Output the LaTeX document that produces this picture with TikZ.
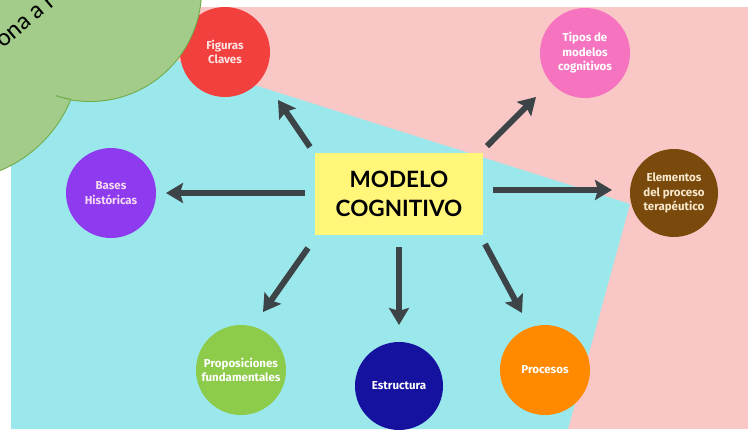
\documentclass[tikz,border=0pt]{standalone}
\usepackage{fontspec}
\setmainfont{Fira Sans}
\newfontfamily\titlefont{Lato}
\newfontfamily\cloudfont{Carlito}
\usetikzlibrary{arrows.meta}
\definecolor{bgpink}{HTML}{F8C7C6}
\definecolor{bgcyan}{HTML}{9BE8EC}
\definecolor{cred}{HTML}{F2403F}
\definecolor{cpink}{HTML}{F674BF}
\definecolor{cpurple}{HTML}{8E3BF0}
\definecolor{cbrown}{HTML}{7A4A0C}
\definecolor{cgreen}{HTML}{8DCB4A}
\definecolor{cblue}{HTML}{1512A0}
\definecolor{corange}{HTML}{FF8A00}
\definecolor{cyellow}{HTML}{FFF67A}
\definecolor{arrowgray}{HTML}{3D4447}
\definecolor{cloudfill}{HTML}{A3CC8A}
\definecolor{cloudline}{HTML}{6FAA45}
\definecolor{txtred}{HTML}{FCE4E2}
\definecolor{txtpurple}{HTML}{F4DAF2}
\definecolor{txtbrown}{HTML}{F8E8CC}
\tikzset{
  bubble/.style={circle, minimum size=90pt, inner sep=0pt, align=center,
    font=\bfseries\fontsize{11.5}{14.5}\selectfont, text=white},
  titlebox/.style={rectangle, fill=cyellow, minimum width=168pt, minimum height=82pt,
    inner sep=0pt, align=center, text=black,
    font=\titlefont\bfseries\fontsize{22.5}{29}\selectfont},
  arr/.style={draw=arrowgray, line width=6pt,
    -{Stealth[length=17pt, width=20pt, inset=3pt, fill=arrowgray]}},
  cloudtext/.style={inner sep=0pt, text=black, font=\cloudfont\fontsize{25}{30}\selectfont}
}
\begin{document}
\begin{tikzpicture}[x=1pt,y=-1pt]
\useasboundingbox (0,0) rectangle (748,429);
\clip (0,0) rectangle (748,429);
\fill[white] (0,0) rectangle (748,429);
% background papers
\fill[bgpink] (11,7) rectangle (748,429);
\fill[bgcyan] (11,8) -- (630,204) -- (568,429) -- (11,429) -- cycle;
% bubbles
\node[bubble, fill=cred, text=txtred] (fig) at (225,52) {Figuras\\Claves};
\node[bubble, fill=cpink] (tip) at (585,53) {Tipos de\\modelos\\cognitivos};
\node[bubble, fill=cpurple, text=txtpurple] (bas) at (111,193) {Bases\\Históricas};
\node[bubble, fill=cbrown, text=txtbrown, minimum size=88pt] (ele) at (674,193) {Elementos\\del proceso\\terapéutico};
\node[bubble, fill=cgreen] (pro) at (241,370) {Proposiciones\\fundamentales};
\node[bubble, fill=cblue, minimum size=88pt] (est) at (399,386) {Estructura};
\node[bubble, fill=corange] (prc) at (545,370) {Procesos};
% central box
\node[titlebox] (title) at (399,194) {MODELO\\COGNITIVO};
% arrow end points
\coordinate (sfig) at (310,147); \coordinate (tfig) at (278,100);
\coordinate (stip) at (487,146); \coordinate (ttip) at (536,97);
\coordinate (sbas) at (305,193); \coordinate (tbas) at (166,193);
\coordinate (sele) at (493,190); \coordinate (tele) at (612,190);
\coordinate (spro) at (308,248); \coordinate (tpro) at (263,312);
\coordinate (sest) at (399,247); \coordinate (test) at (399,325);
\coordinate (sprc) at (485,244); \coordinate (tprc) at (522,313);
\draw[arr] (sfig) -- (tfig);
\draw[arr] (stip) -- (ttip);
\draw[arr] (sbas) -- (tbas);
\draw[arr] (sele) -- (tele);
\draw[arr] (spro) -- (tpro);
\draw[arr] (sest) -- (test);
\draw[arr] (sprc) -- (tprc);
% green cloud blob
\filldraw[fill=cloudfill, draw=cloudline, line width=2pt] (-50,50) circle (130pt);
\filldraw[fill=cloudfill, draw=cloudline, line width=2pt] (90,-10) circle (111pt);
\fill[cloudfill] (-50,50) circle (130pt);
\fill[cloudfill] (90,-10) circle (111pt);
\draw[cloudline, line width=1pt] plot[domain=100:108, samples=12] ({90+111*cos(\x)},{-10+111*sin(\x)});
\node[cloudtext, rotate=40, anchor=base west] (cloudlabel) at (3,49) {ona a r};
\end{tikzpicture}
\end{document}
